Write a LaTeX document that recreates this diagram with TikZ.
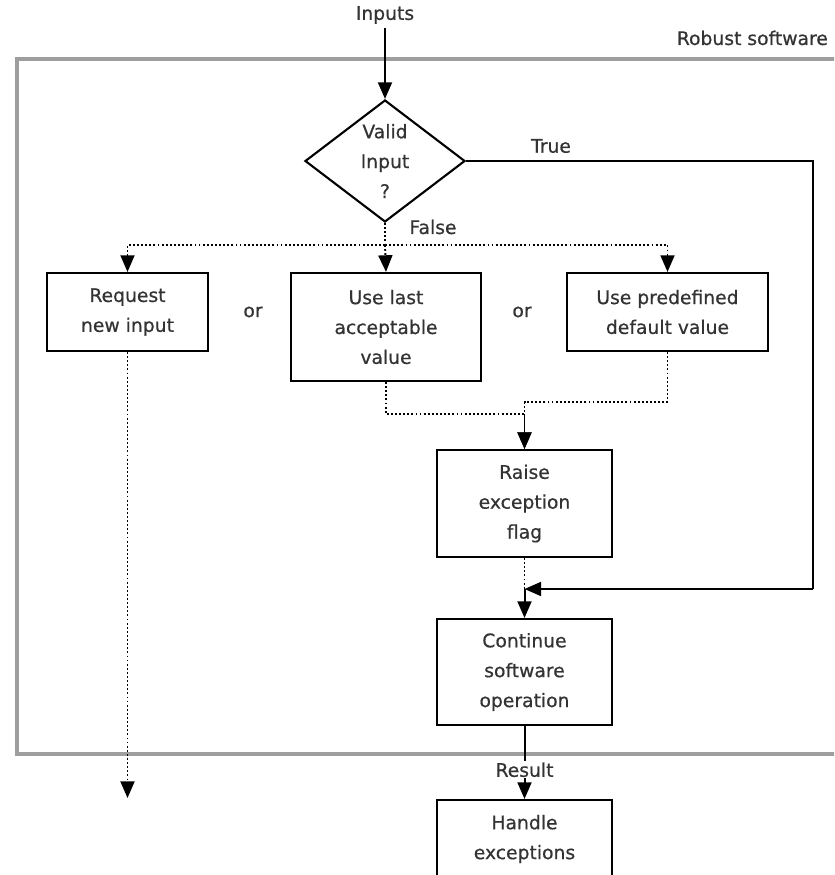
\documentclass[tikz,border=0pt]{standalone}
\usepackage{fontspec}
\setmainfont[FakeBold=0.6]{DejaVu Sans}
\usepackage{tikz}
\usetikzlibrary{shapes.geometric,arrows.meta}

\begin{document}
\begin{tikzpicture}[x=0.03cm,y=-0.03cm]
\tikzstyle{every node}+=[text=black!80, font=\fontsize{16}{25.5}\selectfont]
\tikzstyle{box}=[draw=black, line width=1.8pt, align=center, inner sep=0pt]
\tikzstyle{decision}=[box, shape=diamond, aspect=1.31, minimum width=4.8cm, minimum height=3.66cm]
\tikzstyle{flow}=[line width=1.7pt, -{Triangle[length=0.5cm,width=0.42cm]}]
\tikzstyle{dots}=[line width=1.6pt, dash pattern=on 1.6pt off 1.9pt]
\tikzstyle{maybe}=[dots, -{Triangle[length=0.5cm,width=0.42cm]}]
\useasboundingbox (0,0) rectangle (834,875);
\clip (0,0) rectangle (834,875);
% frame of the robust part
\draw [black!38, line width=3pt] (17,59) rectangle (860,754);
\draw (832,38) node [anchor=east] {Robust software};
% nodes
\node (in) at (385,15) {Inputs};
\node [decision] (valid) at (385,161) {Valid\\Input\\?};
\node [box, minimum width=4.83cm, minimum height=2.34cm] (req) at (127.5,312) {Request\\new input};
\node (or1) at (253,312) {or};
\node [box, minimum width=5.7cm, minimum height=3.24cm] (last) at (386,327) {Use last\\acceptable\\value};
\node (or2) at (522,312) {or};
\node [box, minimum width=6.03cm, minimum height=2.34cm] (pre) at (667.5,312) {Use predefined\\default value};
\node [box, minimum width=5.25cm, minimum height=3.21cm] (raise) at (524.5,503.5) {Raise\\exception\\flag};
\node [box, minimum width=5.25cm, minimum height=3.18cm] (cont) at (524.5,672) {Continue\\software\\operation};
\node [box, minimum width=5.25cm, minimum height=2.34cm] (handle) at (524.5,839) {Handle\\exceptions};
\coordinate (fork) at (385,245);
\coordinate (bend) at (813,589);
\coordinate (join) at (524.5,589);
\coordinate (out) at (127.5,798);
% connectors
\draw [flow] (in) -- (valid.north);
\draw [line width=1.7pt] (valid.east) -| (bend);
\draw [flow] (bend) -- (join);
\draw (551,146) node {True};
\draw [dots] (valid.south) -- (fork);
\draw (433,227) node {False};
\draw [maybe] (fork) -| (req.north);
\draw [maybe] (fork) -- (last.north);
\draw [maybe] (fork) -| (pre.north);
\draw [maybe] (req.south) -- (out);
\draw [maybe] (last.south) -- ++(0,32) -| (raise.north);
\draw [maybe] (pre.south) -- ++(0,50) -| (raise.north);
\draw [dots] (raise.south) -- (join);
\draw [flow] (join) -- (cont.north);
\draw [flow] (cont.south) -- node [pos=0.6, fill=white, inner sep=1pt] {Result} (handle.north);
\end{tikzpicture}
\end{document}
